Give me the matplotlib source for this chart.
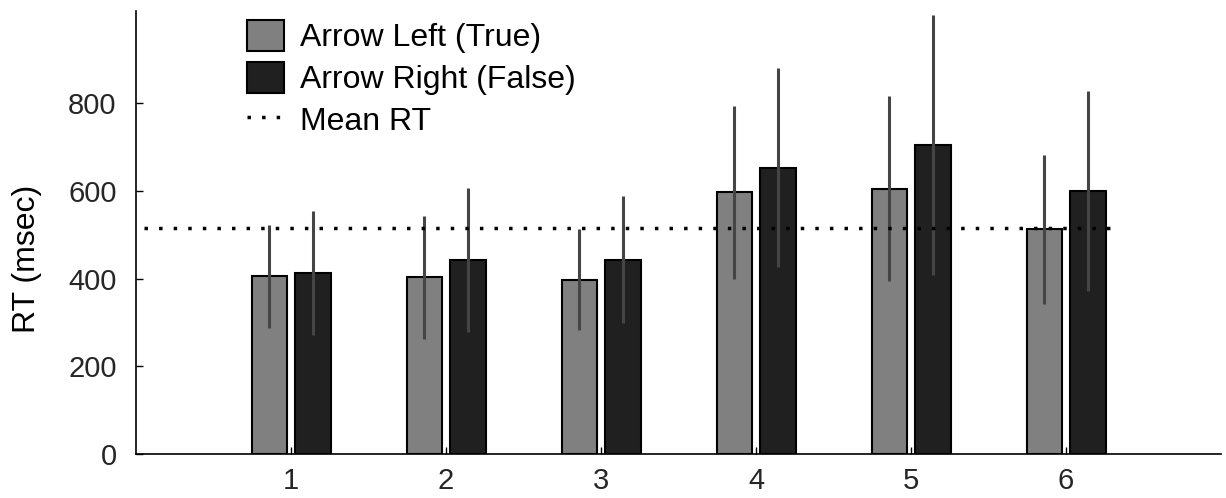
import matplotlib.pyplot as plt
import numpy as np

plt.rcParams['font.family'] = ['Liberation Sans', 'DejaVu Sans']

groups = [1, 2, 3, 4, 5, 6]
left_rt = [405, 403, 398, 597, 605, 512]
left_err = [117, 140, 116, 197, 211, 170]
right_rt = [413, 443, 443, 653, 705, 599]
right_err = [141, 164, 145, 227, 296, 228]
mean_rt = 516

x = np.array(groups)
w = 0.23

fig = plt.figure(figsize=(12.26, 4.98), dpi=100)
ax = fig.add_axes([0.111, 0.088, 0.885, 0.89])

b1 = ax.bar(x - 0.14, left_rt, w, color='#808080', edgecolor='black', linewidth=1.5,
            label='Arrow Left (True)')
b2 = ax.bar(x + 0.14, right_rt, w, color='#202020', edgecolor='black', linewidth=1.5,
            label='Arrow Right (False)')
ax.errorbar(x - 0.14, left_rt, yerr=left_err, fmt='none', ecolor='#454545',
            elinewidth=2.2, capsize=0)
ax.errorbar(x + 0.14, right_rt, yerr=right_err, fmt='none', ecolor='#454545',
            elinewidth=2.2, capsize=0)
ln, = ax.plot([0.05, 6.3], [mean_rt, mean_rt], color='black', linestyle=(0, (1, 3.2)),
              linewidth=2.5, label='Mean RT')

ax.set_xlim(0, 7)
ax.set_ylim(0, 1010)
ax.set_xticks(groups)
ax.set_yticks([0, 200, 400, 600, 800])
ax.tick_params(direction='in', length=5, width=1, labelsize=21,
               labelcolor='#262626')
ax.tick_params(axis='y', pad=14)
ax.tick_params(axis='x', pad=9)
ax.spines['top'].set_visible(False)
ax.spines['right'].set_visible(False)
ax.spines['left'].set_linewidth(1.2)
ax.spines['bottom'].set_linewidth(1.2)
ax.set_ylabel('RT (msec)', fontsize=23, color='black')
ax.yaxis.set_label_coords(-0.087, 0.44)

ax.legend(handles=[b1, b2, ln], loc='upper left', bbox_to_anchor=(0.076, 1.045),
          frameon=False, fontsize=23, handlelength=1.15, handleheight=1.15,
          handletextpad=0.5, labelspacing=0.26)

fig.savefig('out.png', dpi=100)
